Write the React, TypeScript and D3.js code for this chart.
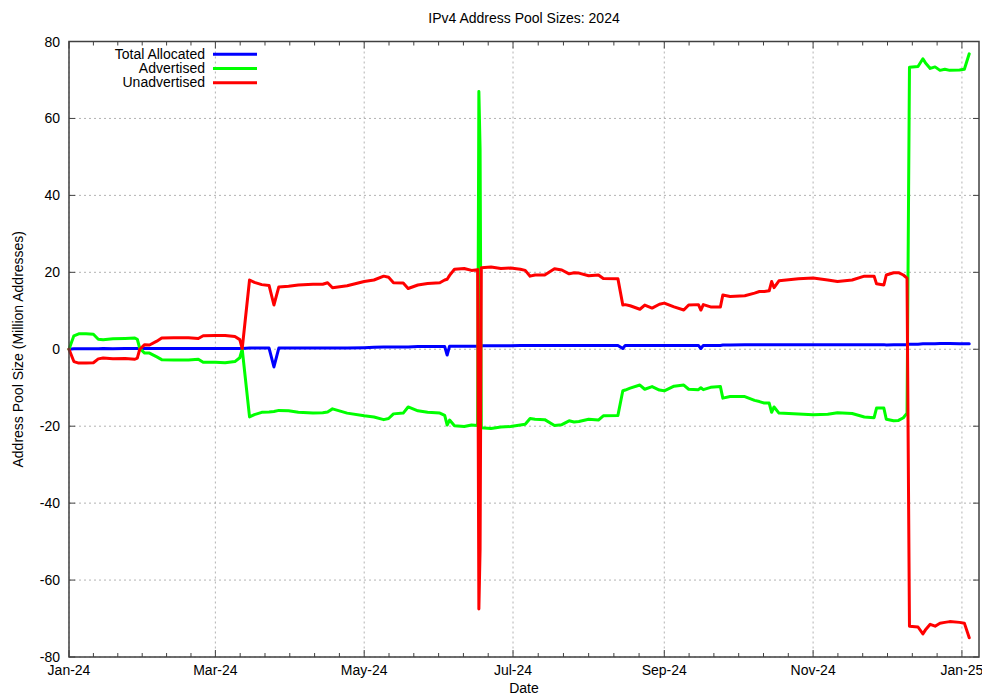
import React from "react";
import * as d3 from "d3";

const dates: string[] = [
  "2024-01-01","2024-01-03","2024-01-05","2024-01-08","2024-01-11","2024-01-13","2024-01-15","2024-01-19","2024-01-24","2024-01-28",
  "2024-01-29","2024-01-30","2024-02-01","2024-02-03","2024-02-06","2024-02-08","2024-02-13","2024-02-19","2024-02-23","2024-02-25",
  "2024-03-01","2024-03-05","2024-03-09","2024-03-11","2024-03-12","2024-03-15","2024-03-17","2024-03-20","2024-03-23","2024-03-25",
  "2024-03-27","2024-03-31","2024-04-04","2024-04-10","2024-04-14","2024-04-16","2024-04-18","2024-04-24","2024-05-01","2024-05-05",
  "2024-05-09","2024-05-11","2024-05-13","2024-05-17","2024-05-19","2024-05-23","2024-05-27","2024-06-01","2024-06-03","2024-06-04",
  "2024-06-05","2024-06-07","2024-06-11","2024-06-14","2024-06-16T12:00Z","2024-06-17T00:00Z","2024-06-17T12:00Z","2024-06-18T00:00Z","2024-06-22","2024-06-26",
  "2024-06-30","2024-07-04","2024-07-06","2024-07-08","2024-07-10","2024-07-14","2024-07-18","2024-07-21","2024-07-24","2024-07-26",
  "2024-07-28","2024-08-01","2024-08-05","2024-08-07","2024-08-13","2024-08-15","2024-08-16","2024-08-18","2024-08-22","2024-08-24",
  "2024-08-27","2024-08-30","2024-09-01","2024-09-05","2024-09-09","2024-09-11","2024-09-15","2024-09-16","2024-09-17","2024-09-20",
  "2024-09-24","2024-09-25","2024-09-28","2024-10-04","2024-10-08","2024-10-10","2024-10-12","2024-10-14","2024-10-15","2024-10-16",
  "2024-10-18","2024-10-26","2024-11-01","2024-11-07","2024-11-11","2024-11-17","2024-11-22","2024-11-26","2024-11-27","2024-11-30",
  "2024-12-01","2024-12-04","2024-12-06","2024-12-08","2024-12-09T12:00Z","2024-12-10T00:00Z","2024-12-10T12:00Z","2024-12-14","2024-12-16","2024-12-17",
  "2024-12-19","2024-12-21","2024-12-23","2024-12-25","2024-12-27","2024-12-31","2025-01-02","2025-01-04",
];

const totalAllocated: number[] = [
  0, 0.1, 0.1, 0.1, 0.1, 0.1, 0.2, 0.1, 0.2, 0.2,
  0.2, 0.2, 0.2, 0.2, 0.2, 0.2, 0.2, 0.2, 0.2, 0.2,
  0.2, 0.2, 0.2, 0.2, 0.2, 0.3, 0.3, 0.3, 0.3, -4.6,
  0.3, 0.3, 0.3, 0.3, 0.3, 0.3, 0.3, 0.3, 0.4, 0.5,
  0.6, 0.6, 0.6, 0.6, 0.6, 0.7, 0.7, 0.7, 0.7, -1.5,
  0.8, 0.8, 0.8, 0.8, 0.8, 0.8, 0.8, 0.9, 0.9, 0.9,
  0.9, 1.0, 1.0, 1.0, 1.0, 1.0, 1.0, 1.0, 1.0, 1.0,
  1.0, 1.0, 1.0, 1.0, 1.0, 0.2, 1.0, 1.0, 1.0, 1.0,
  1.0, 1.0, 1.0, 1.0, 1.0, 1.0, 1.0, 0.2, 1.0, 1.0,
  1.0, 1.1, 1.1, 1.2, 1.2, 1.2, 1.2, 1.2, 1.2, 1.2,
  1.2, 1.2, 1.2, 1.2, 1.2, 1.2, 1.2, 1.2, 1.2, 1.2,
  1.1, 1.2, 1.2, 1.2, 1.2, 1.3, 1.3, 1.3, 1.4, 1.4,
  1.4, 1.4, 1.5, 1.5, 1.5, 1.4, 1.4, 1.4,
];

const advertised: number[] = [
  0, 3.5, 4.0, 4.0, 3.9, 2.6, 2.5, 2.7, 2.8, 2.9,
  2.6, 0.2, -1.0, -1.0, -2.0, -2.7, -2.8, -2.8, -2.6, -3.4,
  -3.4, -3.5, -3.2, -2.2, 0.0, -17.6, -17.0, -16.4, -16.3, -16.2,
  -15.9, -16.0, -16.4, -16.6, -16.5, -16.3, -15.5, -16.6, -17.3, -17.6,
  -18.3, -18.0, -16.8, -16.6, -15.0, -16.0, -16.4, -16.6, -17.2, -19.7,
  -18.4, -19.9, -20.1, -19.7, -19.8, 67.0, 52.0, -20.4, -20.6, -20.2,
  -20.1, -19.7, -19.5, -18.0, -18.2, -18.3, -19.8, -19.6, -18.6, -18.9,
  -18.8, -18.2, -18.4, -17.3, -17.2, -10.8, -10.6, -10.1, -9.3, -10.4,
  -9.7, -10.6, -10.8, -9.6, -9.3, -10.4, -10.5, -10.0, -10.5, -9.9,
  -9.7, -12.7, -12.3, -12.3, -13.3, -13.6, -14.0, -14.0, -16.4, -15.0,
  -16.6, -16.8, -17.0, -16.9, -16.5, -16.7, -17.6, -17.8, -15.3, -15.3,
  -18.2, -18.6, -18.5, -17.8, -16.6, 28.0, 73.3, 73.5, 75.5, 74.5,
  73.0, 73.4, 72.5, 72.8, 72.5, 72.6, 72.8, 76.8,
];

const unadvertised: number[] = [
  0, -3.2, -3.6, -3.6, -3.5, -2.5, -2.3, -2.5, -2.4, -2.6,
  -2.3, 0.0, 1.2, 1.1, 2.1, 2.9, 3.0, 3.0, 2.8, 3.5,
  3.6, 3.6, 3.3, 2.5, 0.2, 18.0, 17.4, 16.8, 16.6, 11.5,
  16.2, 16.4, 16.7, 16.9, 16.9, 17.3, 16.0, 16.5, 17.6, 18.0,
  19.0, 18.7, 17.3, 17.2, 15.8, 16.7, 17.1, 17.3, 18.0, 18.2,
  19.2, 20.8, 21.0, 20.5, 20.7, -67.5, -52.0, 21.2, 21.4, 21.0,
  21.1, 20.8, 20.5, 19.0, 19.3, 19.3, 20.9, 20.6, 19.6, 19.9,
  19.8, 19.1, 19.3, 18.4, 18.3, 11.5, 11.6, 11.3, 10.4, 11.5,
  10.7, 11.7, 12.0, 11.0, 10.2, 11.5, 11.6, 10.2, 11.6, 11.0,
  11.0, 14.1, 13.7, 13.9, 14.6, 15.0, 15.0, 15.2, 17.6, 16.0,
  17.8, 18.3, 18.5, 18.0, 17.6, 18.0, 19.0, 19.0, 17.0, 16.7,
  19.3, 19.9, 19.9, 19.3, 18.5, -27.0, -72.0, -72.2, -74.0, -73.0,
  -71.5, -72.0, -71.2, -71.0, -70.8, -71.0, -71.2, -75.0,
];

const seriesNames = ["Total Allocated", "Advertised", "Unadvertised"];
const seriesColors = ["#0000ff", "#00ff00", "#ff0000"];
const yTicks = [-80, -60, -40, -20, 0, 20, 40, 60, 80];

const W = 982;
const H = 696;
const M = { left: 69, right: 979, top: 41.5, bottom: 657 };
const FONT = "'Liberation Sans', Arial, Helvetica, sans-serif";

export default function App() {
  const parse = (s: string) => d3.isoParse(s.length === 10 ? s + "T00:00:00Z" : s)!;
  const x = d3
    .scaleUtc()
    .domain([parse("2024-01-01"), parse("2025-01-08")])
    .range([M.left, M.right]);
  const y = d3.scaleLinear().domain([-80, 80]).range([M.bottom, M.top]);

  const n = Math.min(dates.length, totalAllocated.length, advertised.length, unadvertised.length);
  const pts = d3.range(n).map((i) => ({ d: parse(dates[i]), v: [totalAllocated[i], advertised[i], unadvertised[i]] }));

  const majors = d3.utcMonth.every(2)!.range(parse("2024-01-01"), parse("2025-01-08"));
  const fmt = d3.utcFormat("%b-%y");
  const minors: number[] = [];
  for (let i = 0; i < majors.length - 1; i++) {
    const a = x(majors[i]);
    const b = x(majors[i + 1]);
    for (let k = 1; k < 6; k++) minors.push(a + ((b - a) * k) / 6);
  }
  {
    const last = majors[majors.length - 1];
    const step = (x(majors[majors.length - 1]) - x(majors[majors.length - 2])) / 6;
    for (let p = x(last) + step; p < M.right; p += step) minors.push(p);
  }

  const line = (k: number) =>
    d3
      .line<{ d: Date; v: number[] }>()
      .x((p) => x(p.d))
      .y((p) => y(p.v[k]))(pts) || "";

  const gridColor = "#a0a0a0";
  const axisColor = "#404040";

  return (
    <svg
      width={W}
      height={H}
      style={{ position: "absolute", left: 0, top: 0, background: "#fff" }}
      fontFamily={FONT}
    >
      <rect x={0} y={0} width={W} height={H} fill="#fff" />
      {majors.map((m, i) => (
        <line key={"gx" + i} x1={x(m)} x2={x(m)} y1={M.top} y2={M.bottom} stroke={gridColor} strokeWidth={0.8} strokeDasharray="2,3" />
      ))}
      {yTicks.map((t) => (
        <line key={"gy" + t} x1={M.left} x2={M.right} y1={y(t)} y2={y(t)} stroke={gridColor} strokeWidth={0.8} strokeDasharray="2,3" />
      ))}
      {majors.map((m, i) => (
        <g key={"tx" + i}>
          <line x1={x(m)} x2={x(m)} y1={M.bottom} y2={M.bottom - 7} stroke={axisColor} strokeWidth={1} />
          <line x1={x(m)} x2={x(m)} y1={M.top} y2={M.top + 7} stroke={axisColor} strokeWidth={1} />
          <text x={x(m)} y={675} textAnchor="middle" fontSize={14} fill="#000">
            {fmt(m)}
          </text>
        </g>
      ))}
      {minors.map((p, i) => (
        <g key={"mx" + i}>
          <line x1={p} x2={p} y1={M.bottom} y2={M.bottom - 4} stroke={axisColor} strokeWidth={1} />
          <line x1={p} x2={p} y1={M.top} y2={M.top + 4} stroke={axisColor} strokeWidth={1} />
        </g>
      ))}
      {yTicks.map((t) => (
        <g key={"ty" + t}>
          <line x1={M.left} x2={M.left + 6} y1={y(t)} y2={y(t)} stroke={axisColor} strokeWidth={1} />
          <line x1={M.right} x2={M.right - 6} y1={y(t)} y2={y(t)} stroke={axisColor} strokeWidth={1} />
          <text x={60} y={y(t) + 5} textAnchor="end" fontSize={14} fill="#000">
            {t}
          </text>
        </g>
      ))}
      {[0, 1, 2].map((k) => (
        <path key={"s" + k} d={line(k)} fill="none" stroke={seriesColors[k]} strokeWidth={3} strokeLinejoin="round" strokeLinecap="round" />
      ))}
      <rect x={M.left} y={M.top} width={M.right - M.left} height={M.bottom - M.top} fill="none" stroke={axisColor} strokeWidth={1.5} />
      {seriesNames.map((s, i) => (
        <g key={"lg" + i}>
          <text x={205} y={59 + i * 14.2} textAnchor="end" fontSize={14} fill="#000">
            {s}
          </text>
          <line x1={213} x2={257} y1={54.3 + i * 14.2} y2={54.3 + i * 14.2} stroke={seriesColors[i]} strokeWidth={3} />
        </g>
      ))}
      <text x={(M.left + M.right) / 2} y={23} textAnchor="middle" fontSize={14} fill="#000">
        IPv4 Address Pool Sizes: 2024
      </text>
      <text x={(M.left + M.right) / 2} y={693} textAnchor="middle" fontSize={14} fill="#000">
        Date
      </text>
      <text
        transform={`translate(23, ${(M.top + M.bottom) / 2}) rotate(-90)`}
        textAnchor="middle"
        fontSize={14}
        fill="#000"
      >
        Address Pool Size (Million Addresses)
      </text>
    </svg>
  );
}
